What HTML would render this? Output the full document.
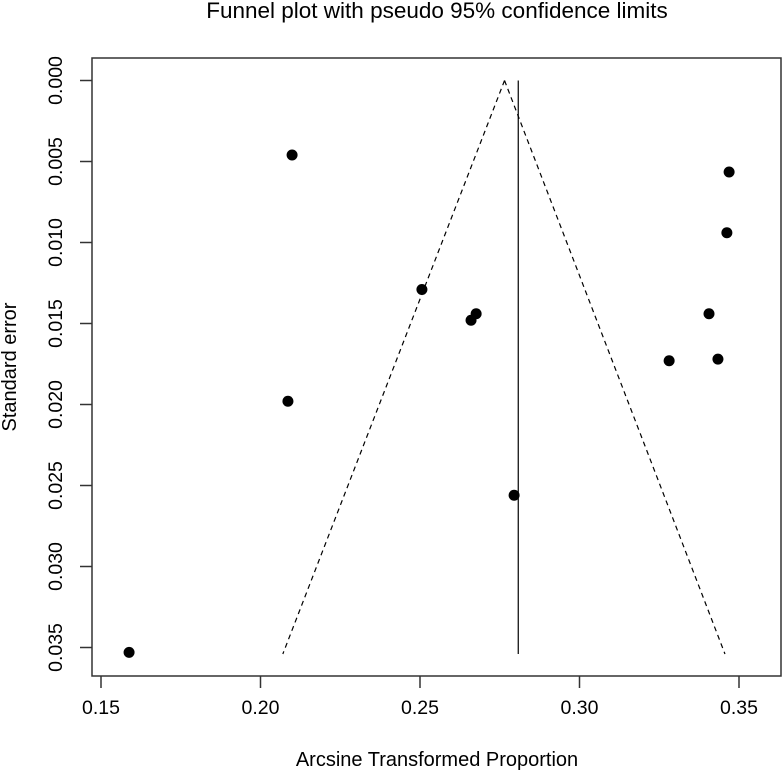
<!DOCTYPE html>
<html><head><meta charset="utf-8"><style>
html,body{margin:0;padding:0;background:#fff}
svg{display:block;font-family:"Liberation Sans",Arial,sans-serif}
</style></head><body>
<svg id="chart" width="784" height="772">
<text x="437" y="18" text-anchor="middle" font-size="22.5" fill="#000">Funnel plot with pseudo 95% confidence limits</text>
<text x="437" y="766" text-anchor="middle" font-size="20" fill="#000">Arcsine Transformed Proportion</text>
<text transform="translate(16,367) rotate(-90)" text-anchor="middle" font-size="20" fill="#000">Standard error</text>
<rect x="92" y="58" width="689" height="618" fill="none" stroke="#333" stroke-width="1.5"/>
<g id="xaxis"></g>
<g id="yaxis"></g>
<g id="funnel"></g>
<g id="points"></g>
</svg>
<script>
const xTicks=[0.15,0.20,0.25,0.30,0.35];
const xTickLabels=["0.15","0.20","0.25","0.30","0.35"];
const yTicks=[0,0.005,0.010,0.015,0.020,0.025,0.030,0.035];
const yTickLabels=["0.000","0.005","0.010","0.015","0.020","0.025","0.030","0.035"];
const effects=[0.2099,0.3469,0.3462,0.2506,0.2676,0.2660,0.3406,0.3281,0.3434,0.2086,0.2795,0.1588];
const stdErrors=[0.0046,0.00565,0.0094,0.0129,0.0144,0.0148,0.0144,0.0173,0.0172,0.0198,0.0256,0.0353];
const pooledEstimate=0.2808;
const funnelApex=0.2765;
const funnelLeftBottom=0.207;
const funnelRightBottom=0.3456;
const maxSE=0.0354;

const NS="http://www.w3.org/2000/svg";
const xs=v=>101+(v-0.15)*3190;
const ys=v=>80.5+v*16200;
function mk(tag,attrs,parent){const e=document.createElementNS(NS,tag);for(const k in attrs)e.setAttribute(k,attrs[k]);parent.appendChild(e);return e;}
const xg=document.getElementById('xaxis'),yg=document.getElementById('yaxis'),fg=document.getElementById('funnel'),pg=document.getElementById('points');
xTicks.forEach((t,i)=>{
  const l=mk('line',{x1:xs(t),x2:xs(t),y1:676,y2:688,stroke:'#333','stroke-width':1.5},xg);
  
  
  const tx=mk('text',{x:xs(t),y:714,'text-anchor':'middle','font-size':19.5},xg);
  tx.textContent=xTickLabels[i];
  
  
});
yTicks.forEach((t,i)=>{
  const l=mk('line',{x1:80,x2:92,y1:ys(t),y2:ys(t),stroke:'#333','stroke-width':1.5},yg);
  
  
  const tx=mk('text',{transform:`translate(62,${ys(t)}) rotate(-90)`,'text-anchor':'middle','font-size':19.5},yg);
  tx.textContent=yTickLabels[i];
  
  
});
const fl=mk('line',{x1:xs(funnelApex),y1:ys(0),x2:xs(funnelLeftBottom),y2:ys(maxSE),stroke:'#000','stroke-width':1.2,'stroke-dasharray':'5,4'},fg);


const fr=mk('line',{x1:xs(funnelApex),y1:ys(0),x2:xs(funnelRightBottom),y2:ys(maxSE),stroke:'#000','stroke-width':1.2,'stroke-dasharray':'5,4'},fg);


const vl=mk('line',{x1:xs(pooledEstimate),y1:ys(0),x2:xs(pooledEstimate),y2:ys(maxSE),stroke:'#000','stroke-width':1.2},fg);


effects.forEach((e,i)=>{
  const c=mk('circle',{cx:xs(e),cy:ys(stdErrors[i]),r:5.5,fill:'#000'},pg);
  
  
});
</script>
</body></html>
